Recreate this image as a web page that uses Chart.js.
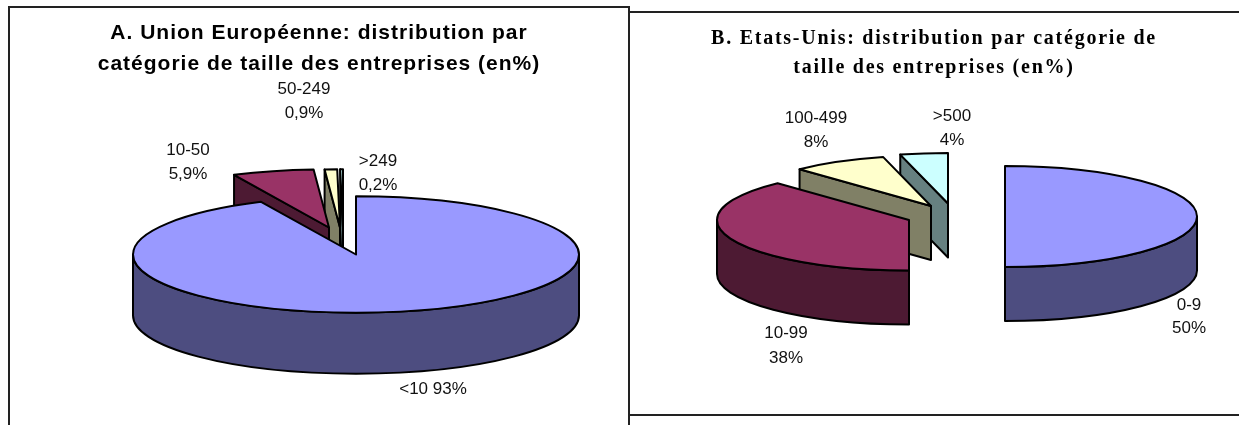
<!DOCTYPE html>
<html>
<head>
<meta charset="utf-8">
<script src="https://cdn.jsdelivr.net/npm/chart.js@4/dist/chart.umd.min.js"></script>
<style>
    html, body { margin: 0; padding: 0; background: #fff; overflow: hidden; }
    body { width: 1239px; height: 425px; position: relative; }
    canvas { position: absolute; top: 0; }
    #chartA { left: 10px; }
    #chartB { left: 629px; }
    .line { position: absolute; background: #222; }
</style>
</head>
<body>
<div class="line" style="left:8px;top:6px;width:621px;height:2px"></div>
<div class="line" style="left:8px;top:6px;width:2px;height:419px"></div>
<div class="line" style="left:628px;top:6px;width:1.5px;height:419px"></div>
<div class="line" style="left:629px;top:11px;width:610px;height:2px"></div>
<div class="line" style="left:629px;top:414px;width:610px;height:1.5px"></div>
<canvas id="chartA" width="618" height="425"></canvas>
<canvas id="chartB" width="610" height="425"></canvas>
<script>
// Donnees
const categoriesA = ['<10', '10-50', '50-249', '>249'];
const valuesA = [93, 5.9, 0.9, 0.2];
const percentA = ['93%', '5,9%', '0,9%', '0,2%'];

const categoriesB = ['0-9', '10-99', '100-499', '>500'];
const valuesB = [50, 38, 8, 4];
const percentB = ['50%', '38%', '8%', '4%'];

const titleA = ['A. Union Européenne: distribution par', 'catégorie de taille des entreprises (en%)'];
const titleB = ['B. Etats-Unis: distribution par catégorie de', 'taille des entreprises (en%)'];

const topColors = ['#9999FF', '#993366', '#FFFFCC', '#CCFFFF'];
const sideColors = ['#4D4D80', '#4D1A33', '#808066', '#668080'];

// Camembert 3D: les angles viennent des arcs calcules par Chart.js
const pie3d = {
    id: 'pie3d',
    // le titre du graphique est dessine avec cet espacement
    beforeDraw(chart, args, opts) {
        chart.ctx.letterSpacing = opts.titleSpacing;
    },
    beforeDatasetDraw(chart, args, opts) {
        const ctx = chart.ctx;
        const arcs = args.meta.data;
        ctx.save();
        ctx.lineWidth = 2;
        ctx.lineJoin = 'round';
        ctx.strokeStyle = '#000';
        // du fond vers l'avant
        for (let i = arcs.length - 1; i >= 0; i--) {
            const arc = arcs[i];
            const rx = arc.outerRadius;
            const ry = rx * opts.tilt;
            const cx = opts.center[0] + opts.explode[i][0];
            const cy = opts.center[1] + opts.explode[i][1];
            const a0 = arc.startAngle;
            const a1 = arc.endAngle;

            // faces de coupe
            ctx.fillStyle = sideColors[i];
            [[a0, Math.cos(a0) < -0.001], [a1, Math.cos(a1) > 0.001]].forEach(([a, visible]) => {
                if (!visible) return;
                const ox = cx + rx * Math.cos(a);
                const oy = cy + ry * Math.sin(a);
                ctx.beginPath();
                ctx.moveTo(cx, cy);
                ctx.lineTo(ox, oy);
                ctx.lineTo(ox, oy + opts.depth);
                ctx.lineTo(cx, cy + opts.depth);
                ctx.closePath();
                ctx.fill();
                ctx.stroke();
            });

            // paroi exterieure, seulement la partie avant
            for (let k = 0; k < 2; k++) {
                const from = Math.max(a0, k * 2 * Math.PI);
                const to = Math.min(a1, k * 2 * Math.PI + Math.PI);
                if (to <= from) continue;
                ctx.beginPath();
                ctx.ellipse(cx, cy, rx, ry, 0, from, to);
                ctx.ellipse(cx, cy + opts.depth, rx, ry, 0, to, from, true);
                ctx.closePath();
                ctx.fill();
                ctx.stroke();
            }

            // dessus
            ctx.fillStyle = topColors[i];
            ctx.beginPath();
            ctx.moveTo(cx, cy);
            ctx.ellipse(cx, cy, rx, ry, 0, a0, a1);
            ctx.closePath();
            ctx.fill();
            ctx.stroke();
        }
        ctx.restore();
        return false;
    },
    afterDraw(chart, args, opts) {
        const ctx = chart.ctx;
        ctx.save();
        ctx.letterSpacing = '0px';
        ctx.font = '17px "Liberation Sans"';
        ctx.fillStyle = '#111';
        ctx.textAlign = 'center';
        ctx.textBaseline = 'middle';
        opts.labels.forEach(l => {
            l.lines.forEach((txt, j) => ctx.fillText(txt, l.x, l.y + j * l.gap));
        });
        ctx.restore();
    }
};

function makeChart(id, labels, values, title, titleFont, titlePad, opts) {
    return new Chart(document.getElementById(id), {
        type: 'pie',
        data: {
            labels: labels,
            datasets: [{ data: values, radius: opts.radius, backgroundColor: topColors }]
        },
        plugins: [pie3d],
        options: {
            animation: false,
            responsive: false,
            events: [],
            plugins: {
                legend: { display: false },
                tooltip: { enabled: false },
                title: {
                    display: true,
                    text: title,
                    color: '#000',
                    font: titleFont,
                    padding: titlePad
                },
                pie3d: opts
            }
        }
    });
}

makeChart('chartA', categoriesA, valuesA, titleA,
    { family: '"Liberation Sans"', size: 21, weight: 'bold', lineHeight: 1.476 },
    { top: 18, bottom: 0 },
    {
        radius: 223, tilt: 0.261, depth: 61, center: [346, 254.5], titleSpacing: '1px',
        explode: [[0, 0], [-27, -27], [-16, -27], [-13, -27]],
        labels: [
            { lines: [categoriesA[0] + ' ' + percentA[0]], x: 423, y: 389, gap: 0 },
            { lines: [categoriesA[1], percentA[1]], x: 178, y: 150, gap: 24 },
            { lines: [categoriesA[2], percentA[2]], x: 294, y: 89, gap: 24 },
            { lines: [categoriesA[3], percentA[3]], x: 368, y: 161, gap: 24 }
        ]
    });

makeChart('chartB', categoriesB, valuesB, titleB,
    { family: '"Liberation Serif"', size: 20, weight: 'bold', lineHeight: 1.45 },
    { top: 24, bottom: 0 },
    {
        radius: 192, tilt: 0.263, depth: 54, center: [376, 216.5], titleSpacing: '1.75px',
        explode: [[0, 0], [-96, 3.5], [-74, -10.5], [-57, -13]],
        labels: [
            { lines: [categoriesB[0], percentB[0]], x: 560, y: 305, gap: 23 },
            { lines: [categoriesB[1], percentB[1]], x: 157, y: 333, gap: 25 },
            { lines: [categoriesB[2], percentB[2]], x: 187, y: 118, gap: 24 },
            { lines: [categoriesB[3], percentB[3]], x: 323, y: 116, gap: 24 }
        ]
    });
</script>
</body>
</html>
